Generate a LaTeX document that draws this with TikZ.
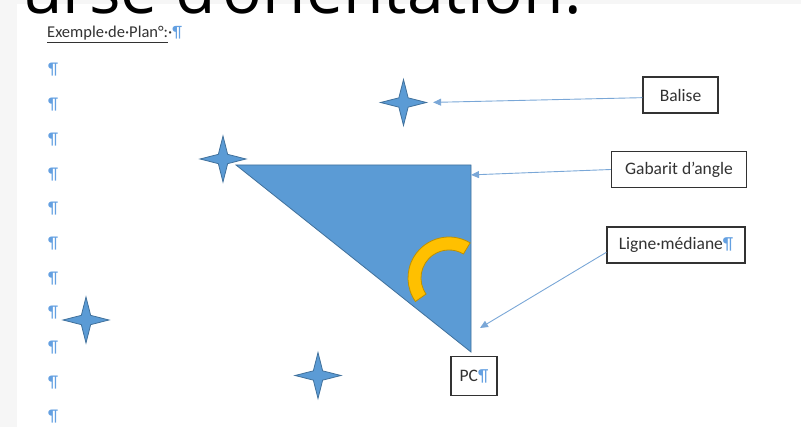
\documentclass[tikz,border=0pt]{standalone}
\usepackage{fontspec}
\setmainfont{Carlito}
\newfontfamily\titrefont{Open Sans}
\usetikzlibrary{arrows.meta,shapes.geometric,calc}
\definecolor{bleuplan}{RGB}{91,155,213}
\definecolor{bleubord}{RGB}{65,113,156}
\definecolor{bleufleche}{RGB}{122,167,215}
\definecolor{bleupil}{RGB}{100,160,225}
\definecolor{jaunearc}{RGB}{255,192,0}
\definecolor{jaunebord}{RGB}{191,144,0}
\definecolor{textgris}{RGB}{50,50,50}
\definecolor{fondgris}{RGB}{246,246,246}
\newcommand{\pil}{\textcolor{bleupil}{¶}}

\begin{document}
\begin{tikzpicture}[
    x=1pt,y=-1pt,
    legende/.style={draw=textgris,line width=1.3pt,fill=white,text=textgris,font=\fontsize{17.5}{20}\selectfont,minimum height=36pt,inner sep=0pt},
    etoile/.style={star,star points=4,star point ratio=3.5,minimum size=46pt,inner sep=0pt,fill=bleuplan,draw=bleubord,line width=0.8pt},
    pilcrow/.style={text=bleupil,font=\fontsize{17}{17}\selectfont,inner sep=0pt},
    fleche/.style={-{Triangle[length=8pt,width=7pt]},draw=bleufleche,line width=0.9pt},
    gabaritfond/.style={fill=bleuplan,draw=bleubord,line width=0.8pt},
    arcjaune/.style={fill=jaunearc,draw=jaunebord,line width=0.8pt}
  ]
  \useasboundingbox (0,0) rectangle (801,427);
  \fill[fondgris] (0,0) rectangle (801,4);
  \fill[fondgris] (0,0) rectangle (17,427);
  \begin{scope}
    \clip (0,0) rectangle (801,427);
    \node[anchor=base east,inner sep=0pt,font=\titrefont\fontsize{66}{66}\selectfont] (titre) at (582,14) {urse d’orientation.};
  \end{scope}
  \node[anchor=base west,inner sep=0pt,text=textgris,font=\fontsize{16.5}{17}\selectfont] (exemple) at (47,38) {\underline{Exemple·de·Plan°:}·\pil};

  % marques de paragraphe
  \foreach \k in {0,...,10}
    \node[pilcrow] (p\k) at (53,{70+34.7*\k}) {¶};

  % gabarit d'angle
  \coordinate (gab-g) at (236,165);
  \coordinate (gab-d) at (471,165);
  \coordinate (gab-b) at (471,352);
  \draw[gabaritfond] (gab-g) -- (gab-d) -- (gab-b) -- cycle;
  \coordinate (centre) at (449,278);
  \draw[arcjaune] ($(centre)+(59:41pt)$) arc[start angle=59,end angle=215,radius=41pt]
    -- ($(centre)+(215:28pt)$) arc[start angle=215,end angle=59,radius=28pt] -- cycle;

  % balises
  \node[etoile] (b1) at (403.5,102.5) {};
  \node[etoile] (b2) at (223,159) {};
  \node[etoile] (b3) at (86,320) {};
  \node[etoile] (b4) at (318,375.5) {};

  \node[legende,minimum width=75pt] (balise) at (680.5,95) {Balise};
  \node[legende,minimum width=135pt] (gabarit) at (679,169.5) {Gabarit d’angle};
  \node[legende,minimum width=138pt] (ligne) at (676,245) {Ligne·médiane\pil};
  \node[legende,minimum width=46pt,minimum height=39pt] (pc) at (474,376) {PC\pil};

  \coordinate (mediane) at (480,328);
  \draw[fleche,shorten >=5pt] (balise.184) -- (b1.east);
  \draw[fleche] (gabarit.west) -- ($(gab-d)!0.053!(gab-b)$);
  \draw[fleche] (ligne.186) -- (mediane);
\end{tikzpicture}
\end{document}
